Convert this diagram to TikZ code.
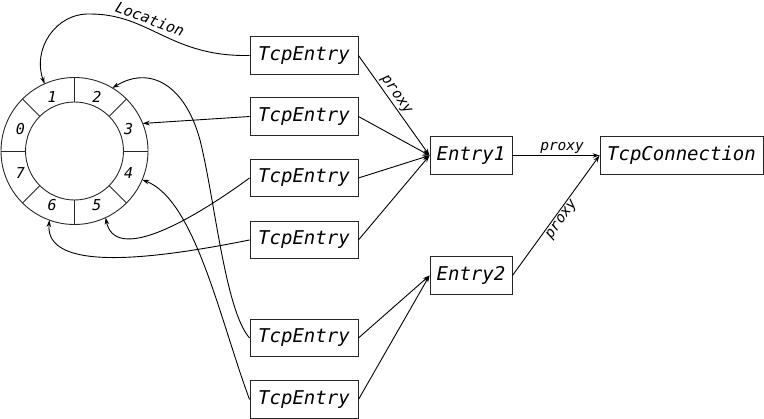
\documentclass[tikz,border=0pt]{standalone}
\usepackage{fontspec}
\setmonofont{DejaVu Sans Mono}
\usetikzlibrary{arrows.meta,calc}
\begin{document}
\begin{tikzpicture}[x=1pt,y=-1pt,
  box/.style={draw=black!85, line width=0.9pt, font=\fontsize{19}{22}\selectfont\ttfamily\itshape, minimum height=37.5pt, inner xsep=0pt, inner ysep=0pt},
  lbl/.style={font=\fontsize{14.5}{16}\selectfont\ttfamily\itshape, inner sep=1.5pt},
  digit/.style={font=\fontsize{15}{16}\selectfont\ttfamily\itshape, inner sep=0pt},
  ringline/.style={draw=black!85, line width=0.9pt},
  conn/.style={line width=0.9pt, -{Stealth[length=7pt,width=4.5pt]}},
]
\useasboundingbox (0,0) rectangle (764,419);

% ring
\coordinate (rc) at (74.5,151);
\draw[ringline] (rc) circle[radius=73.5];
\draw[ringline] (rc) circle[radius=49];
\foreach \a in {0,45,...,315} \draw[ringline] ($(rc)+(\a:49)$) -- ($(rc)+(\a:73.5)$);
\foreach \k in {0,...,7} {
  \pgfmathsetmacro{\ang}{45*\k-157.5}
  \node[digit] (d\k) at ($(rc)+(\ang:58.5)$) {\k};
}
\coordinate (s1) at ($(rc)+(-114:73.5)$);
\coordinate (s2) at ($(rc)+(-59:73.5)$);
\coordinate (s3) at ($(rc)+(-22:73.5)$);
\coordinate (s4) at ($(rc)+(23:73.5)$);
\coordinate (s5) at ($(rc)+(65:73.5)$);
\coordinate (s6) at ($(rc)+(110:73.5)$);

% boxes
\node[box, minimum width=108pt] (t1) at (304,55.5) {TcpEntry};
\node[box, minimum width=108pt] (t2) at (304,116.5) {TcpEntry};
\node[box, minimum width=108pt] (t3) at (304,178) {TcpEntry};
\node[box, minimum width=108pt] (t4) at (304,240) {TcpEntry};
\node[box, minimum width=108pt] (t5) at (304,338) {TcpEntry};
\node[box, minimum width=108pt] (t6) at (304,399.5) {TcpEntry};
\node[box, minimum width=82pt] (e1) at (471,155.5) {Entry1};
\node[box, minimum width=82pt] (e2) at (471,275.5) {Entry2};
\node[box, minimum width=163pt] (tc) at (681.5,155.5) {TcpConnection};

% connectors to the ring
\draw[conn] (t1.west) .. controls (170,57) and (150,14) .. (90,14) .. controls (55,13) and (32,50) .. (s1);
\node[lbl, font=\fontsize{15}{16}\selectfont\ttfamily\itshape, rotate=-21] (loc) at (150,19) {Location};
\draw[conn] (t2.west) -- (s3);
\draw[conn] (t3.west) .. controls (185,225) and (115,262) .. (s5);
\draw[conn] (t4.west) .. controls (150,260) and (45,272) .. (s6);
\draw[conn] (t5.west) .. controls (225,310) and (215,200) .. (200,140) .. controls (185,85) and (150,65) .. (s2);
\draw[conn] (t6.west) .. controls (220,320) and (195,200) .. (s4);

% connectors to entries
\draw[conn] (t1.east) -- node[lbl, sloped, above, pos=0.44] (p1) {proxy} (e1.west);
\draw[conn] (t2.east) -- (e1.west);
\draw[conn] (t3.east) -- (e1.west);
\draw[conn] (t4.east) -- (e1.west);
\draw[conn] (t5.east) -- (e2.west);
\draw[conn] (t6.east) -- (e2.west);
\draw[conn] (e1.east) -- node[lbl, above, pos=0.57] (p2) {proxy} (tc.west);
\draw[conn] (e2.east) -- node[lbl, sloped, below, pos=0.5] (p3) {proxy} (tc.west);
\end{tikzpicture}
\end{document}
